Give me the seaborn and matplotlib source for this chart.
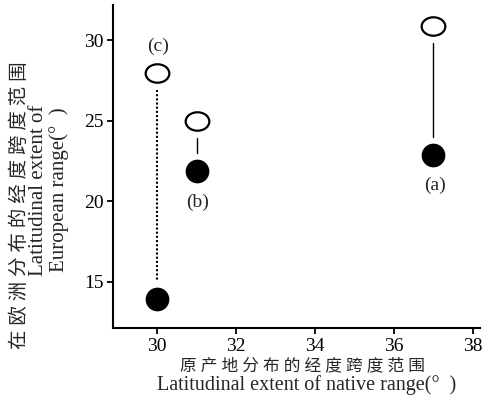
import matplotlib
matplotlib.use("Agg")
import matplotlib.pyplot as plt
import matplotlib.path as mpath
import matplotlib.transforms as mtrans
import seaborn as sns
import pandas as pd

groups = ["(a)", "(b)", "(c)"]
native_extent = [37, 31, 30]
europe_open = [30.9, 25, 28]
europe_filled = [22.9, 21.9, 13.95]
line_styles = ["-", "-", (0, (1, 1))]
label_y = [21.0, 19.95, 29.65]

sns.set_style("ticks")
plt.rcParams['font.family'] = ['Liberation Serif', 'Noto Sans CJK SC']

W, H = 490, 417
fig = plt.figure(figsize=(W / 100, H / 100), dpi=100)
ax = fig.add_axes([113 / W, 1 - 328 / H, 367 / W, 323 / H])

# connecting lines (gap near markers like the reference)
for x, yo, yf, ls in zip(native_extent, europe_open, europe_filled, line_styles):
    ax.plot([x, x], [yo - 1.05, yf + 1.1], color="black",
            lw=1.0 if ls == "-" else 1.5, ls=ls, zorder=1)

ellipse = mpath.Path.unit_circle().transformed(mtrans.Affine2D().scale(1.0, 0.78))

df_open = pd.DataFrame({"x": native_extent, "y": europe_open})
df_filled = pd.DataFrame({"x": native_extent, "y": europe_filled})
sns.scatterplot(data=df_open, x="x", y="y", ax=ax, s=290, marker=ellipse,
                facecolor="white", edgecolor="black", linewidth=1.6, zorder=3)
sns.scatterplot(data=df_filled, x="x", y="y", ax=ax, s=250, marker="o",
                color="black", edgecolor="black", zorder=3)

for g, x, ly in zip(groups, native_extent, label_y):
    ax.text(x + 0.03, ly, g, ha="center", va="center", fontsize=14)

ax.set_xlim(28.88, 38.18)
ax.set_ylim(12.14, 32.2)
ax.set_xticks([30, 32, 34, 36, 38])
ax.set_yticks([15, 20, 25, 30])
ax.tick_params(labelsize=14, length=4, width=1.3, colors="black", pad=3)
for s in ["top", "right"]:
    ax.spines[s].set_visible(False)
for s in ["left", "bottom"]:
    ax.spines[s].set_linewidth(1.5)
    ax.spines[s].set_color("black")
ax.set_xlabel("")
ax.set_ylabel("")

fam = ['Liberation Serif', 'Noto Sans CJK SC']
fig.text(302 / W, 1 - 366 / H, " ".join("原产地分布的经度跨度范围"), ha="center",
         va="center", fontsize=12, family=fam)
fig.text(307 / W, 1 - 385 / H, "Latitudinal extent of native range(°  )",
         ha="center", va="center", fontsize=14.5, family=fam)
fig.text(20 / W, 1 - 205 / H, " ".join("在欧洲分布的经度跨度范围"), ha="center",
         va="center", fontsize=14, rotation=90, family=fam)
fig.text(39 / W, 1 - 190 / H, "Latitudinal extent of", ha="center", va="center",
         fontsize=15, rotation=90, family=fam)
fig.text(59 / W, 1 - 190 / H, "European range(°  )", ha="center", va="center",
         fontsize=15, rotation=90, family=fam)

fig.savefig("out.png", dpi=100)
